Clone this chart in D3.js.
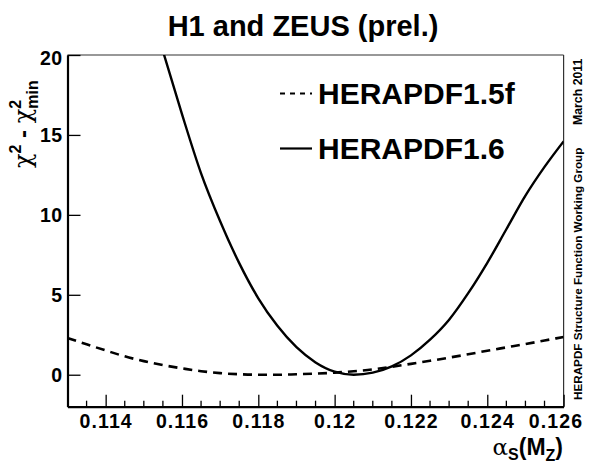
<!DOCTYPE html>
<html>
<head>
<meta charset="utf-8">
<script src="https://cdn.jsdelivr.net/npm/d3@7"></script>
<style>
  body { margin: 0; background: #fff; }
  text { font-family: "Liberation Sans", Arial, sans-serif; font-weight: bold; }
</style>
</head>
<body>
<svg id="chart" width="589" height="464"></svg>
<script>
// alpha_s grid and chi2 - chi2min
var alphaFit15f = [0.113, 0.1135, 0.114, 0.1145, 0.115, 0.1155, 0.116, 0.1165, 0.117, 0.1175, 0.118, 0.1185,
                   0.119, 0.1195, 0.12, 0.1205, 0.121, 0.1215, 0.122, 0.1225, 0.123, 0.1235, 0.124, 0.1245,
                   0.125, 0.1255, 0.126];
var chi2Fit15f = [2.3, 1.9, 1.52, 1.15, 0.85, 0.6, 0.4, 0.22, 0.1, 0.03, 0.0, 0.0,
                  0.03, 0.07, 0.13, 0.22, 0.33, 0.5, 0.68, 0.87, 1.07, 1.28, 1.5, 1.71,
                  1.92, 2.14, 2.36];

var alphaFit16 = [0.1155, 0.116, 0.1165, 0.117, 0.1175, 0.118, 0.1185, 0.119, 0.1195, 0.12, 0.1205,
                  0.121, 0.1215, 0.122, 0.1225, 0.123, 0.1235, 0.124, 0.1245, 0.125, 0.1255, 0.126];
var chi2Fit16 = [20.25, 16.3, 12.6, 9.6, 6.98, 4.78, 3.06, 1.72, 0.77, 0.19, 0.0,
                 0.13, 0.52, 1.21, 2.19, 3.44, 5.1, 7.0, 9.1, 11.2, 13.0, 14.6];

var seriesNames = ["HERAPDF1.5f", "HERAPDF1.6"];
var xTicks = [0.114, 0.116, 0.118, 0.12, 0.122, 0.124, 0.126];
var yTicks = [0, 5, 10, 15, 20];

var margin = { top: 55, left: 67.5, right: 25.4, bottom: 57.3 };
var width = 589 - margin.left - margin.right;
var height = 464 - margin.top - margin.bottom;

var svg = d3.select("#chart");

var x = d3.scaleLinear().domain([0.113, 0.126]).range([0, width]);
var y = d3.scaleLinear().domain([-2, 20]).range([height, 0]);

var g = svg.append("g").attr("transform", "translate(" + margin.left + "," + margin.top + ")");

svg.append("defs").append("clipPath").attr("id", "plotclip")
    .append("rect").attr("width", width).attr("height", height);

// frame top / right (thin)
g.append("line").attr("x1", 0).attr("x2", width).attr("y1", 0).attr("y2", 0)
    .attr("stroke", "#333").attr("stroke-width", 1.2);
g.append("line").attr("x1", width).attr("x2", width).attr("y1", 0).attr("y2", height)
    .attr("stroke", "#333").attr("stroke-width", 1.2);

// x axis: major + minor ticks
var xMinor = d3.range(0.1135, 0.12601, 0.0005).filter(function (v) {
    return !xTicks.some(function (t) { return Math.abs(t - v) < 1e-6; });
});
var xAxisG = g.append("g").attr("transform", "translate(0," + height + ")");
xAxisG.selectAll(".minor").data(xMinor).enter().append("line")
    .attr("x1", function (d) { return x(d); }).attr("x2", function (d) { return x(d); })
    .attr("y1", 0).attr("y2", -6).attr("stroke", "#000").attr("stroke-width", 1.3);
xAxisG.call(d3.axisBottom(x).tickValues(xTicks).tickSizeInner(-12).tickSizeOuter(0)
        .tickFormat(function (d) { return String(+d.toFixed(3)); }));
xAxisG.select(".domain").attr("stroke-width", 2.2);
xAxisG.selectAll(".tick line").attr("stroke-width", 1.3);
xAxisG.selectAll(".tick text")
    .attr("y", 21).attr("dy", 0)
    .style("font-size", "19.5px").style("letter-spacing", "1.1px").attr("fill", "#000");
xAxisG.selectAll(".tick text").filter(function (d) { return d === 0.126; })
    .attr("text-anchor", "end").attr("dx", 19);

// y axis
var yAxisG = g.append("g");
yAxisG.call(d3.axisLeft(y).tickValues(yTicks).tickSizeInner(-13).tickSizeOuter(0));
yAxisG.select(".domain").attr("stroke-width", 2.2);
yAxisG.selectAll(".tick text")
    .attr("x", -5).attr("dy", "0.36em")
    .style("font-size", "19.5px").style("letter-spacing", "0.4px").attr("fill", "#000");
yAxisG.selectAll(".tick line").attr("stroke-width", 1.3);
yAxisG.selectAll(".tick text").filter(function (d) { return d === 20; }).attr("dy", "0.5em");

// curves
var line = d3.line().curve(d3.curveMonotoneX)
    .x(function (d) { return x(d[0]); })
    .y(function (d) { return y(d[1]); });

var plot = g.append("g").attr("clip-path", "url(#plotclip)");
plot.append("path")
    .datum(d3.zip(alphaFit15f, chi2Fit15f))
    .attr("d", line).attr("fill", "none").attr("stroke", "#000")
    .attr("stroke-width", 2.6).attr("stroke-dasharray", "9,6");
plot.append("path")
    .datum(d3.zip(alphaFit16, chi2Fit16))
    .attr("d", line).attr("fill", "none").attr("stroke", "#000")
    .attr("stroke-width", 2.4);

// legend
var legend = svg.append("g");
var legY = [93.5, 148.5];
legend.selectAll("line").data(seriesNames).enter().append("line")
    .attr("x1", 280).attr("x2", 312)
    .attr("y1", function (d, i) { return legY[i]; })
    .attr("y2", function (d, i) { return legY[i]; })
    .attr("stroke", "#000").attr("stroke-width", 2.2)
    .attr("stroke-dasharray", function (d, i) { return i === 0 ? "5,5" : null; });
legend.selectAll("text").data(seriesNames).enter().append("text")
    .attr("x", 318)
    .attr("y", function (d, i) { return legY[i] + 10.5; })
    .style("font-size", "30px")
    .text(function (d) { return d; });

// title
svg.append("text").attr("x", 303).attr("y", 35.5).attr("text-anchor", "middle")
    .style("font-size", "29px").text("H1 and ZEUS (prel.)");

// y axis title
var yTitle = svg.append("text")
    .attr("transform", "translate(31,168) rotate(-90)")
    .style("font-size", "24px");
yTitle.append("tspan").style("font-weight", "normal").style("font-family", "DejaVu Serif").text("χ");
yTitle.append("tspan").attr("dy", -10).style("font-size", "16px").text("2");
yTitle.append("tspan").attr("dy", 10).text(" - ");
yTitle.append("tspan").style("font-weight", "normal").style("font-family", "DejaVu Serif").text("χ");
yTitle.append("tspan").attr("dy", -10).style("font-size", "16px").text("2");
yTitle.append("tspan").attr("dy", 17).attr("dx", -9).style("font-size", "16px").text("min");

// x axis title
var xTitle = svg.append("text").attr("x", 563).attr("y", 455).attr("text-anchor", "end")
    .style("font-size", "23px");
xTitle.append("tspan").style("font-weight", "normal").style("font-family", "DejaVu Serif").text("α");
xTitle.append("tspan").attr("dy", 5).style("font-size", "16px").text("S");
xTitle.append("tspan").attr("dy", -5).text("(M");
xTitle.append("tspan").attr("dy", 6).style("font-size", "16px").text("Z");
xTitle.append("tspan").attr("dy", -6).text(")");

// side labels
svg.append("text").attr("transform", "translate(581.5,400) rotate(-90)")
    .style("font-size", "11.7px").text("HERAPDF Structure Function Working Group");
svg.append("text").attr("transform", "translate(581.5,125) rotate(-90)")
    .style("font-size", "12.3px").text("March 2011");
</script>
</body>
</html>
